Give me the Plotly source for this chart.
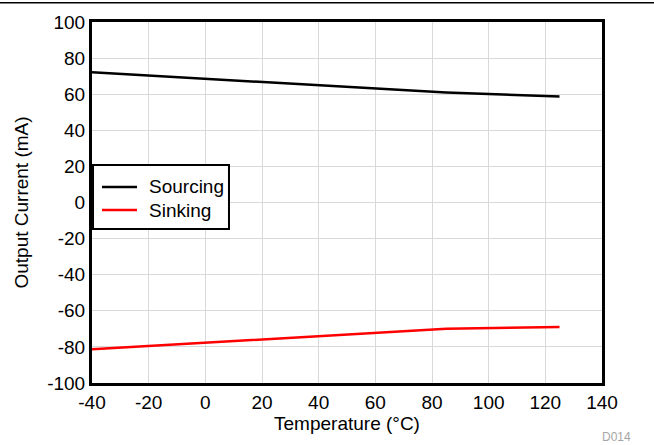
import plotly.graph_objects as go

temp = [-40, -20, 0, 25, 85, 125]
sourcing = [72.2, 70.5, 68.5, 66.3, 61.0, 58.7]
sinking = [-81.3, -79.5, -77.5, -75.5, -70.0, -69.0]

x_ticks = [-40, -20, 0, 20, 40, 60, 80, 100, 120, 140]
y_ticks = [-100, -80, -60, -40, -20, 0, 20, 40, 60, 80, 100]

series = [("Sourcing", sourcing, "black"), ("Sinking", sinking, "#ff0000")]

fig = go.Figure()
for name, vals, col in series:
    fig.add_trace(go.Scatter(x=temp, y=vals, mode="lines", name=name,
                             line=dict(color=col, width=2.5), showlegend=False))

font = dict(family="Liberation Sans, Arial, sans-serif", size=19, color="black")
fig.update_layout(
    width=654, height=445,
    margin=dict(l=92, r=52, t=22, b=62, autoexpand=False),
    paper_bgcolor="white", plot_bgcolor="white",
    font=font,
    showlegend=False,
    xaxis=dict(range=[-40, 140], tickvals=x_ticks, ticktext=[str(v) for v in x_ticks],
               showgrid=True, gridcolor="#d9d9d9", gridwidth=1,
               showline=True, linecolor="black", linewidth=3, mirror=True,
               ticks="", zeroline=False, automargin=False,
               title=dict(text="Temperature (°C)", standoff=2, font=font)),
    yaxis=dict(range=[-100, 100], tickvals=y_ticks, ticktext=[str(v) for v in y_ticks],
               showgrid=True, gridcolor="#d9d9d9", gridwidth=1,
               showline=True, linecolor="black", linewidth=3, mirror=True,
               ticks="", zeroline=False, automargin=False,
               title=dict(text="Output Current (mA)", standoff=14, font=font)),
)
# top rule
fig.add_shape(type="line", xref="paper", yref="paper", x0=-0.2, x1=1.2,
              y0=1.053, y1=1.053, line=dict(color="black", width=1.5))
# legend box
fig.add_shape(type="rect", xref="paper", yref="paper", x0=0.002, x1=0.2686,
              y0=0.4266, y1=0.6039, line=dict(color="black", width=2),
              fillcolor="white", layer="above")
leg_y = [0.543, 0.479]
for (name, vals, col), ly in zip(series, leg_y):
    fig.add_shape(type="line", xref="paper", yref="paper", x0=0.0196, x1=0.0882,
                  y0=ly, y1=ly, line=dict(color=col, width=2.5), layer="above")
    fig.add_annotation(text=name, xref="paper", yref="paper", x=0.1078, y=ly,
                       xanchor="left", yanchor="middle", showarrow=False,
                       font=dict(size=19, color="black"))
fig.add_annotation(text="D014", xref="paper", yref="paper", x=1.029, y=-0.15,
                   xanchor="center", yanchor="middle", showarrow=False,
                   font=dict(size=12, color="#a6a6a6"))
fig.write_html("out.html", config={"displayModeBar": False},
               post_script="document.body.style.margin='0';")
